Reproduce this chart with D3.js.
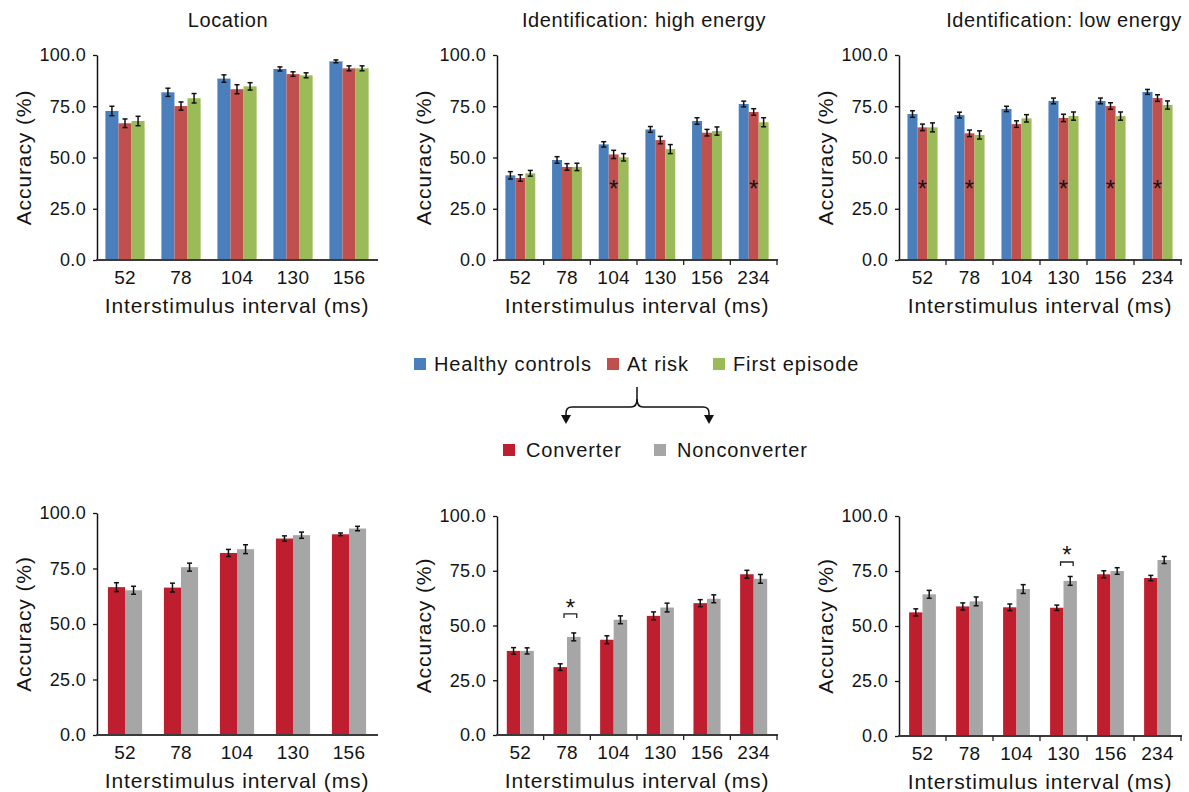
<!DOCTYPE html>
<html lang="en">
<head>
<meta charset="utf-8"/>
<script src="https://d3js.org/d3.v7.min.js"></script>
<style>
  body { margin: 0; background: #fff; }
  svg text { font-family: "Liberation Sans", Arial, sans-serif; fill: #141414; }
  .tick text { font-size: 18px; letter-spacing: 0.3px; }
  .cat text { font-size: 19px; letter-spacing: 0.3px; }
  .axtitle { font-size: 21px; letter-spacing: 0.9px; }
  .ptitle { font-size: 20px; letter-spacing: 0.6px; }
  .legend text { font-size: 20px; letter-spacing: 0.9px; }
</style>
</head>
<body>
<svg id="chart" width="1189" height="792"></svg>
<script>
const locIsi = ["52", "78", "104", "130", "156"];
const idIsi = ["52", "78", "104", "130", "156", "234"];
const yTicks = [0, 25, 50, 75, 100];

const groupNames = ["Healthy controls", "At risk", "First episode"];
const subNames = ["Converter", "Nonconverter"];

// Location task
const locHealthy = [72.7, 81.8, 88.5, 93.2, 96.9];
const locHealthyErr = [2.3, 2.0, 1.8, 1.0, 0.7];
const locAtRisk = [66.7, 75.1, 83.3, 90.7, 93.5];
const locAtRiskErr = [2.1, 2.0, 2.2, 1.1, 1.2];
const locFirst = [67.8, 78.9, 84.7, 90.1, 93.5];
const locFirstErr = [2.3, 2.3, 1.8, 1.2, 1.2];

// Identification: high energy
const highHealthy = [41.3, 48.8, 56.4, 63.7, 67.8, 76.1];
const highHealthyErr = [1.8, 1.6, 1.3, 1.4, 1.6, 1.4];
const highAtRisk = [40.0, 45.4, 51.5, 58.5, 62.1, 72.2];
const highAtRiskErr = [1.6, 1.6, 2.0, 1.8, 1.6, 1.6];
const highFirst = [42.3, 45.4, 50.1, 54.1, 62.9, 67.2];
const highFirstErr = [1.4, 1.8, 1.8, 2.2, 2.0, 2.2];
const highStars = ["104", "234"];

// Identification: low energy
const lowHealthy = [71.2, 70.7, 73.7, 77.6, 77.6, 82.0];
const lowHealthyErr = [1.6, 1.4, 1.3, 1.4, 1.4, 1.2];
const lowAtRisk = [64.7, 61.8, 66.3, 69.3, 75.1, 79.0];
const lowAtRiskErr = [1.6, 1.6, 1.6, 1.8, 1.6, 1.6];
const lowFirst = [64.7, 61.0, 69.1, 70.2, 70.2, 75.6];
const lowFirstErr = [2.2, 2.0, 1.8, 2.0, 2.0, 2.0];
const lowStars = ["52", "78", "130", "156", "234"];
const starLevel = 37;

// At-risk split: converters vs nonconverters
const locConv = [66.6, 66.4, 82.0, 88.5, 90.4];
const locConvErr = [2.0, 2.0, 1.6, 1.2, 0.6];
const locNonconv = [65.2, 75.6, 83.7, 90.0, 93.0];
const locNonconvErr = [1.8, 1.8, 2.0, 1.4, 1.0];

const highConv = [38.4, 31.0, 43.5, 54.4, 60.2, 73.4];
const highConvErr = [1.5, 1.5, 1.8, 1.8, 1.6, 1.8];
const highNonconv = [38.4, 44.8, 52.6, 58.2, 62.2, 71.3];
const highNonconvErr = [1.4, 1.8, 1.8, 2.0, 1.8, 2.0];
const highSig = [{ isi: "78", bracket: 55.3, star: 60.3 }];

const lowConv = [56.2, 58.9, 58.5, 58.3, 73.5, 71.8];
const lowConvErr = [1.6, 1.6, 1.5, 1.2, 1.6, 1.2];
const lowNonconv = [64.4, 61.2, 66.8, 70.5, 75.0, 80.0];
const lowNonconvErr = [1.8, 2.0, 2.0, 2.0, 1.5, 1.6];
const lowSig = [{ isi: "130", bracket: 79.1, star: 84.5 }];

const colors = ["#4a7fbc", "#c0504d", "#9bbb59"];
const subColors = ["#be1e2d", "#a6a6a6"];

const svg = d3.select("#chart");

function drawPanel(cfg) {
  const g = svg.append("g");
  const x = d3.scaleBand().domain(cfg.cats)
    .range([cfg.left, cfg.right])
    .paddingInner(cfg.pad).paddingOuter(cfg.pad / 2);
  const y = d3.scaleLinear().domain([0, 100]).range([cfg.bottom, cfg.top]);
  const inner = d3.scaleBand().domain(d3.range(cfg.series.length))
    .range([0, x.bandwidth()]);

  cfg.series.forEach(function(s, si) {
    const rows = cfg.cats.map(function(c, i) {
      return { c: c, v: s.values[i], e: s.errs[i] };
    });
    const sg = g.append("g");
    sg.selectAll("rect").data(rows).enter().append("rect")
      .attr("x", d => x(d.c) + inner(si))
      .attr("y", d => y(d.v))
      .attr("width", inner.bandwidth())
      .attr("height", d => y(0) - y(d.v))
      .attr("fill", s.color);

    const eb = sg.selectAll("g.err").data(rows).enter().append("g")
      .attr("stroke", "#111").attr("stroke-width", 1.5);
    const cx = d => x(d.c) + inner(si) + inner.bandwidth() / 2;
    eb.append("line")
      .attr("x1", cx).attr("x2", cx)
      .attr("y1", d => y(d.v - d.e)).attr("y2", d => y(d.v + d.e));
    eb.append("line")
      .attr("x1", d => cx(d) - 2.5).attr("x2", d => cx(d) + 2.5)
      .attr("y1", d => y(d.v + d.e)).attr("y2", d => y(d.v + d.e));
    eb.append("line")
      .attr("x1", d => cx(d) - 2.5).attr("x2", d => cx(d) + 2.5)
      .attr("y1", d => y(d.v - d.e)).attr("y2", d => y(d.v - d.e));
  });

  // stars inside the at-risk bar
  if (cfg.stars) {
    g.selectAll("text.star").data(cfg.stars).enter().append("text")
      .attr("class", "star")
      .attr("x", d => x(d) + inner(1) + inner.bandwidth() / 2)
      .attr("y", y(starLevel) + 13)
      .attr("text-anchor", "middle")
      .style("font-size", "24px")
      .text("*");
  }

  // brackets between converter / nonconverter
  if (cfg.sig) {
    cfg.sig.forEach(function(d) {
      const x1 = x(d.isi) + x.bandwidth() * 0.39;
      const x2 = x(d.isi) + x.bandwidth() * 0.86;
      const yb = y(d.bracket);
      g.append("path")
        .attr("d", "M" + x1 + "," + (yb + 4) + "V" + yb + "H" + x2 + "V" + (yb + 4))
        .attr("fill", "none").attr("stroke", "#222").attr("stroke-width", 1.3);
      g.append("text")
        .attr("x", (x1 + x2) / 2)
        .attr("y", y(d.star) + 13)
        .attr("text-anchor", "middle")
        .style("font-size", "24px")
        .text("*");
    });
  }

  // y axis
  const ya = g.append("g")
    .attr("transform", "translate(" + cfg.left + ",0)")
    .call(d3.axisLeft(y).tickValues(yTicks).tickFormat(d3.format(".1f"))
      .tickSize(4).tickSizeOuter(0).tickPadding(7));
  ya.select(".domain").attr("stroke", "#111").attr("stroke-width", 1.5);
  ya.selectAll(".tick line").attr("stroke", "#111").attr("stroke-width", 1.3);
  ya.selectAll("text").attr("fill", "#141414");

  // x axis
  const xa = g.append("g").attr("class", "cat")
    .attr("transform", "translate(0," + cfg.bottom + ")")
    .call(d3.axisBottom(x).tickSize(0).tickPadding(11));
  xa.select(".domain").remove();
  xa.selectAll("text").attr("fill", "#141414");
  g.append("line")
    .attr("x1", cfg.left - 1).attr("x2", cfg.right + 1)
    .attr("y1", cfg.bottom).attr("y2", cfg.bottom)
    .attr("stroke", "#3a3a3a").attr("stroke-width", 2);
  if (cfg.xTicks) {
    g.selectAll("line.xt").data(cfg.cats).enter().append("line")
      .attr("x1", (d, i) => cfg.left + (i + 1) * x.step())
      .attr("x2", (d, i) => cfg.left + (i + 1) * x.step())
      .attr("y1", cfg.bottom).attr("y2", cfg.bottom + 5)
      .attr("stroke", "#222").attr("stroke-width", 1.3);
  }

  g.append("text").attr("class", "axtitle")
    .attr("text-anchor", "middle")
    .attr("transform", "translate(" + (cfg.left - 66) + "," + ((cfg.top + cfg.bottom) / 2) + ") rotate(-90)")
    .text("Accuracy (%)");
  g.append("text").attr("class", "axtitle")
    .attr("text-anchor", "middle")
    .attr("x", (cfg.left + cfg.right) / 2)
    .attr("y", cfg.bottom + 53)
    .text("Interstimulus interval (ms)");
  if (cfg.title) {
    g.append("text").attr("class", "ptitle")
      .attr("text-anchor", "middle")
      .attr("x", cfg.titleX).attr("y", 27)
      .text(cfg.title);
  }
}

function trio(a, ae, b, be, c, ce) {
  return [
    { values: a, errs: ae, color: colors[0] },
    { values: b, errs: be, color: colors[1] },
    { values: c, errs: ce, color: colors[2] }
  ];
}
function duo(a, ae, b, be) {
  return [
    { values: a, errs: ae, color: subColors[0] },
    { values: b, errs: be, color: subColors[1] }
  ];
}

drawPanel({ left: 97, right: 377, top: 55, bottom: 260, cats: locIsi, pad: 0.3,
  series: trio(locHealthy, locHealthyErr, locAtRisk, locAtRiskErr, locFirst, locFirstErr),
  title: "Location", titleX: 228 });
drawPanel({ left: 497, right: 777, top: 55, bottom: 260, cats: idIsi, pad: 0.36, xTicks: true,
  series: trio(highHealthy, highHealthyErr, highAtRisk, highAtRiskErr, highFirst, highFirstErr),
  stars: highStars, title: "Identification: high energy", titleX: 644 });
drawPanel({ left: 899, right: 1181, top: 55, bottom: 260, cats: idIsi, pad: 0.36, xTicks: true,
  series: trio(lowHealthy, lowHealthyErr, lowAtRisk, lowAtRiskErr, lowFirst, lowFirstErr),
  stars: lowStars, title: "Identification: low energy", titleX: 1064 });

drawPanel({ left: 97, right: 377, top: 513, bottom: 735, cats: locIsi, pad: 0.39,
  series: duo(locConv, locConvErr, locNonconv, locNonconvErr) });
drawPanel({ left: 497, right: 777, top: 516, bottom: 735, cats: idIsi, pad: 0.42, xTicks: true,
  series: duo(highConv, highConvErr, highNonconv, highNonconvErr), sig: highSig });
drawPanel({ left: 899, right: 1181, top: 516, bottom: 736, cats: idIsi, pad: 0.43, xTicks: true,
  series: duo(lowConv, lowConvErr, lowNonconv, lowNonconvErr), sig: lowSig });

// legends
const leg1 = svg.append("g").attr("class", "legend");
const leg1x = [414, 607, 713];
groupNames.forEach(function(n, i) {
  leg1.append("rect").attr("x", leg1x[i]).attr("y", 358).attr("width", 12).attr("height", 12)
    .attr("fill", colors[i]);
  leg1.append("text").attr("x", leg1x[i] + 20).attr("y", 371).text(n);
});

const leg2 = svg.append("g").attr("class", "legend");
const leg2x = [503, 654];
subNames.forEach(function(n, i) {
  leg2.append("rect").attr("x", leg2x[i]).attr("y", 444).attr("width", 12).attr("height", 12)
    .attr("fill", subColors[i]);
  leg2.append("text").attr("x", leg2x[i] + 23).attr("y", 457).text(n);
});

// brace with arrows
const brace = svg.append("g").attr("stroke", "#111").attr("stroke-width", 1.5).attr("fill", "none");
brace.append("path").attr("d",
  "M637,387 V399 Q637,407 631,407 H572 Q566,407 566,413 V416");
brace.append("path").attr("d",
  "M637,399 Q637,407 643,407 H703 Q709,407 709,413 V416");
svg.append("path").attr("d", "M561,415 L571,415 L566,424 Z").attr("fill", "#111");
svg.append("path").attr("d", "M704,415 L714,415 L709,424 Z").attr("fill", "#111");
</script>
</body>
</html>
